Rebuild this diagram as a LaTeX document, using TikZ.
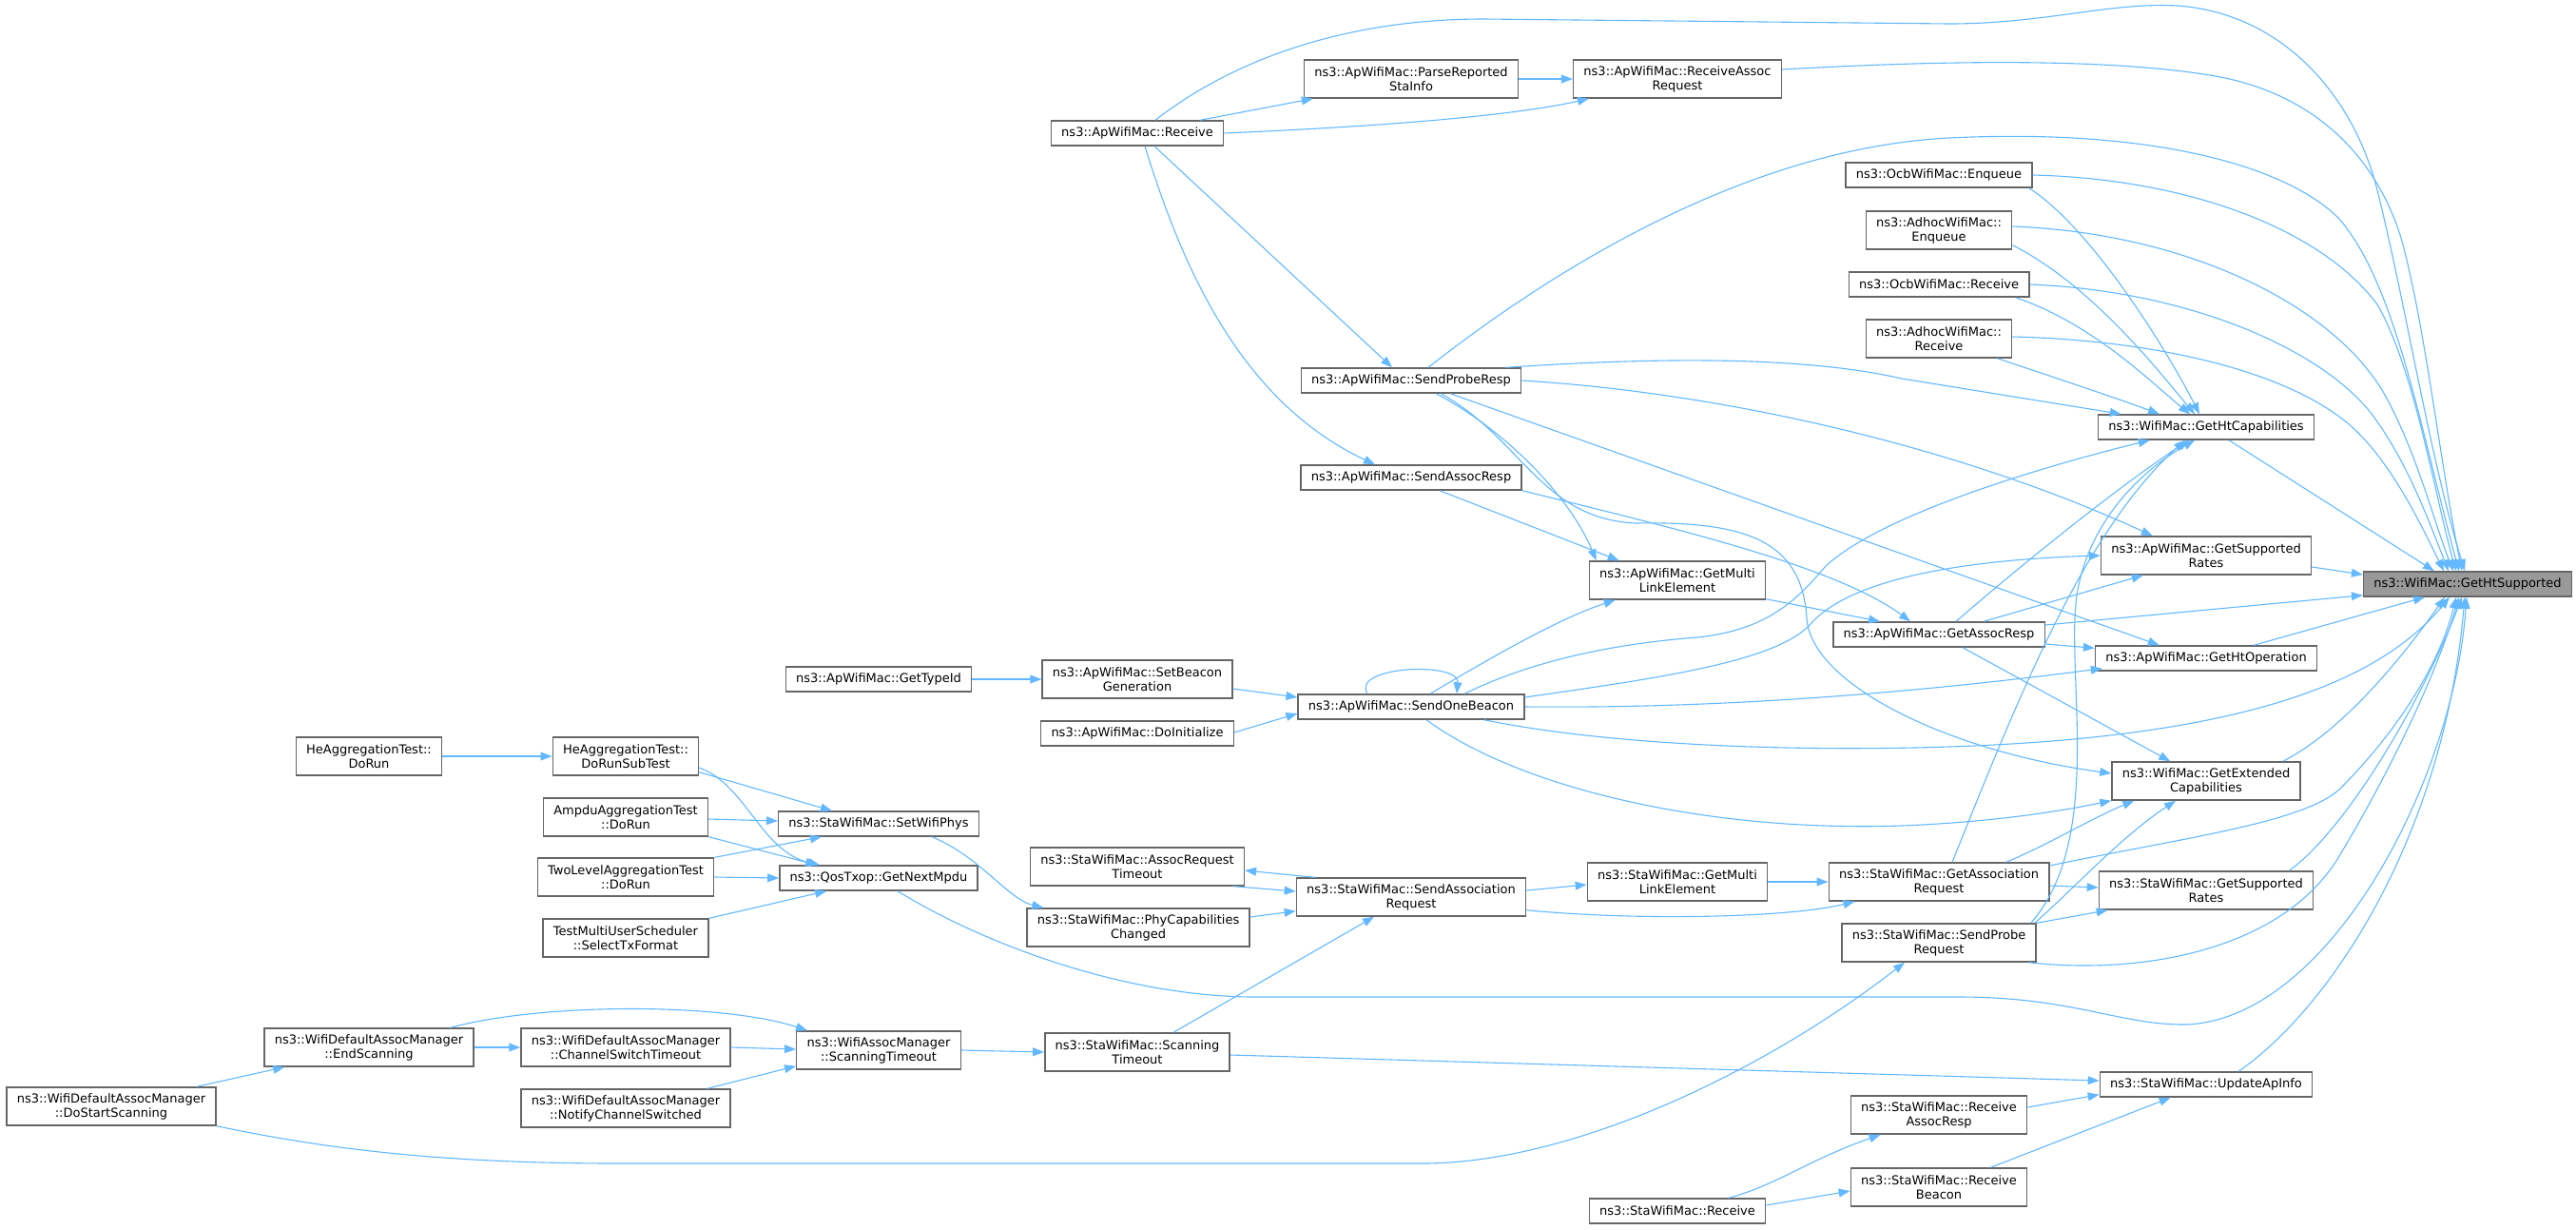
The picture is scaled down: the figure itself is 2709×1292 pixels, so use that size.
\documentclass[tikz,border=0pt]{standalone}
\usepackage{fontspec}
\newfontfamily\dvfont{DejaVu Sans}
\usetikzlibrary{arrows.meta,calc}
\definecolor{boxline}{HTML}{666666}
\definecolor{rootfill}{HTML}{999999}
\definecolor{callblue}{HTML}{63B8FF}
\tikzset{
  fn/.style={draw=boxline, line width=0.7pt, fill=white, font=\dvfont\fontsize{6.5}{7.5}\selectfont, align=center, inner xsep=5.4pt, inner ysep=1pt, minimum height=13pt},
  fnn/.style={fn, minimum height=20pt},
  fnroot/.style={fn, fill=rootfill},
  callto/.style={draw=callblue, line width=0.55pt, -{Triangle[length=6pt,width=4.4pt]}},
}
\begin{document}
\begin{tikzpicture}[x=0.5pt,y=-0.5pt]
\useasboundingbox (0,0) rectangle (2709,1292);

\node[fnn] (dostart) at (117,1163) {ns3::WifiDefaultAssocManager\\::DoStartScanning};
\node[fnn] (hedorun) at (388,795) {HeAggregationTest::\\DoRun};
\node[fnn] (endscan) at (388,1101) {ns3::WifiDefaultAssocManager\\::EndScanning};
\node[fnn] (hesub) at (658,795) {HeAggregationTest::\\DoRunSubTest};
\node[fnn] (ampdu) at (658,859) {AmpduAggregationTest\\::DoRun};
\node[fnn] (twolevel) at (658,922) {TwoLevelAggregationTest\\::DoRun};
\node[fnn] (mutest) at (658,986) {TestMultiUserScheduler\\::SelectTxFormat};
\node[fnn] (chsw) at (658,1101) {ns3::WifiDefaultAssocManager\\::ChannelSwitchTimeout};
\node[fnn] (notify) at (658,1165) {ns3::WifiDefaultAssocManager\\::NotifyChannelSwitched};
\node[fn] (typeid) at (924,714) {ns3::ApWifiMac::GetTypeId};
\node[fn] (setphys) at (924,866) {ns3::StaWifiMac::SetWifiPhys};
\node[fn] (nextmpdu) at (924,923) {ns3::QosTxop::GetNextMpdu};
\node[fnn] (wamscan) at (924,1104) {ns3::WifiAssocManager\\::ScanningTimeout};
\node[fn] (aprecv) at (1196,140) {ns3::ApWifiMac::Receive};
\node[fnn] (setbeacon) at (1196,714) {ns3::ApWifiMac::SetBeacon\\Generation};
\node[fn] (doinit) at (1196,771) {ns3::ApWifiMac::DoInitialize};
\node[fnn] (assoctimeout) at (1196,911) {ns3::StaWifiMac::AssocRequest\\Timeout};
\node[fnn] (phychanged) at (1197,975) {ns3::StaWifiMac::PhyCapabilities\\Changed};
\node[fnn] (stascan) at (1196,1106) {ns3::StaWifiMac::Scanning\\Timeout};
\node[fnn] (parse) at (1484,83) {ns3::ApWifiMac::ParseReported\\StaInfo};
\node[fn] (proberesp) at (1484,400) {ns3::ApWifiMac::SendProbeResp};
\node[fn] (assocresp) at (1484,502) {ns3::ApWifiMac::SendAssocResp};
\node[fn] (onebeacon) at (1484,743) {ns3::ApWifiMac::SendOneBeacon};
\node[fnn] (sendassoc) at (1484,943) {ns3::StaWifiMac::SendAssociation\\Request};
\node[fnn] (recvassoc) at (1764,83) {ns3::ApWifiMac::ReceiveAssoc\\Request};
\node[fnn] (apmle) at (1764,610) {ns3::ApWifiMac::GetMulti\\LinkElement};
\node[fnn] (stamle) at (1764,927) {ns3::StaWifiMac::GetMulti\\LinkElement};
\node[fn] (starecv) at (1764,1273) {ns3::StaWifiMac::Receive};
\node[fn] (ocbenq) at (2039,184) {ns3::OcbWifiMac::Enqueue};
\node[fnn] (adhocenq) at (2039,242) {ns3::AdhocWifiMac::\\Enqueue};
\node[fn] (ocbrecv) at (2039,299) {ns3::OcbWifiMac::Receive};
\node[fnn] (adhocrecv) at (2039,356) {ns3::AdhocWifiMac::\\Receive};
\node[fn] (getassocresp) at (2039,667) {ns3::ApWifiMac::GetAssocResp};
\node[fnn] (getassocreq) at (2039,927) {ns3::StaWifiMac::GetAssociation\\Request};
\node[fnn] (sendprobe) at (2039,991) {ns3::StaWifiMac::SendProbe\\Request};
\node[fnn] (recvassocresp) at (2039,1172) {ns3::StaWifiMac::Receive\\AssocResp};
\node[fnn] (recvbeacon) at (2039,1248) {ns3::StaWifiMac::Receive\\Beacon};
\node[fn] (htcap) at (2320,449) {ns3::WifiMac::GetHtCapabilities};
\node[fnn] (apsuprates) at (2320,584) {ns3::ApWifiMac::GetSupported\\Rates};
\node[fn] (htop) at (2320,692) {ns3::ApWifiMac::GetHtOperation};
\node[fnn] (extcap) at (2320,821) {ns3::WifiMac::GetExtended\\Capabilities};
\node[fnn] (stasuprates) at (2320,936) {ns3::StaWifiMac::GetSupported\\Rates};
\node[fn] (updateap) at (2320,1140) {ns3::StaWifiMac::UpdateApInfo};
\node[fnroot] (htsup) at (2595,614) {ns3::WifiMac::GetHtSupported};

\draw[callto] ($(aprecv.north)+(66,0)$) -- ($(parse.south west)+(10,0)$);
\draw[callto] (aprecv.east) .. controls (1450,133) and (1590,122) .. ($(recvassoc.south west)+(17,0)$);
\draw[callto] (parse.east) -- (recvassoc.west);
\draw[callto] ($(aprecv.north)+(19,0)$) .. controls (1300,60) and (1420,20) .. (1560,20) -- (2050,25) .. controls (2150,25) and (2220,2) .. (2290,6) .. controls (2400,14) and (2475,100) .. (2500,200) .. controls (2530,320) and (2555,480) .. ($(htsup.north)+(-3,0)$);
\draw[callto] ($(recvassoc.east)+(0,-10)$) .. controls (2000,66) and (2200,58) .. (2330,80) .. controls (2440,100) and (2500,170) .. (2525,250) .. controls (2550,340) and (2565,480) .. ($(htsup.north)+(-6,0)$);
\draw[callto] ($(proberesp.north)+(18,0)$) .. controls (1650,270) and (1850,155) .. (2050,145) .. controls (2250,135) and (2400,170) .. (2460,230) .. controls (2520,300) and (2545,450) .. ($(htsup.north)+(-9,0)$);
\draw[callto] (ocbenq.east) .. controls (2300,188) and (2440,240) .. (2500,320) .. controls (2540,390) and (2560,520) .. ($(htsup.north)+(-12,0)$);
\draw[callto] ($(adhocenq.east)+(0,-4)$) .. controls (2300,245) and (2450,320) .. (2505,410) .. controls (2540,470) and (2560,550) .. ($(htsup.north)+(-15,0)$);
\draw[callto] (ocbrecv.east) .. controls (2290,305) and (2430,360) .. (2490,430) .. controls (2530,480) and (2555,550) .. ($(htsup.north)+(-20,0)$);
\draw[callto] ($(adhocrecv.east)+(0,-2)$) .. controls (2280,358) and (2420,395) .. (2480,455) .. controls (2520,495) and (2550,560) .. ($(htsup.north)+(-25,0)$);
\draw[callto] ($(ocbenq.south east)+(-4,0)$) .. controls (2200,240) and (2280,370) .. ($(htcap.north)+(-7,0)$);
\draw[callto] ($(adhocenq.south east)+(0,-5)$) .. controls (2200,300) and (2270,390) .. ($(htcap.north)+(-12,0)$);
\draw[callto] ($(ocbrecv.south east)+(-15,0)$) .. controls (2200,340) and (2260,400) .. ($(htcap.north)+(-17,0)$);
\draw[callto] ($(adhocrecv.south east)+(-16,0)$) .. controls (2170,400) and (2230,420) .. ($(htcap.north)+(-49,0)$);
\draw[callto] ($(proberesp.north east)+(-17,0)$) .. controls (1750,375) and (1900,375) .. (2000,398) -- ($(htcap.north west)+(25,0)$);
\draw[callto] (proberesp.east) .. controls (1800,412) and (2050,465) .. ($(apsuprates.north west)+(55,0)$);
\draw[callto] ($(proberesp.south)+(41,0)$) -- ($(htop.north west)+(68,0)$);
\draw[callto] ($(proberesp.south)+(26,0)$) .. controls (1580,450) and (1650,520) .. ($(apmle.north west)+(8,0)$);
\draw[callto] ($(proberesp.south)+(31,0)$) .. controls (1600,460) and (1620,545) .. (1720,550) .. controls (1830,548) and (1895,565) .. (1900,650) .. controls (1905,720) and (2050,790) .. ($(extcap.west)+(0,-8)$);
\draw[callto] ($(aprecv.south)+(18,0)$) -- ($(proberesp.north)+(-20,0)$);
\draw[callto] ($(aprecv.south)+(8,0)$) .. controls (1240,270) and (1300,420) .. ($(assocresp.north)+(-38,0)$);
\draw[callto] ($(assocresp.south)+(30,0)$) -- ($(apmle.north west)+(32,0)$);
\draw[callto] (assocresp.south east) .. controls (1760,555) and (1930,595) .. ($(getassocresp.north west)+(82,0)$);
\draw[callto] ($(apmle.south east)+(0,-1)$) -- ($(getassocresp.north west)+(50,0)$);
\draw[callto] ($(onebeacon.north)+(20,0)$) .. controls (1570,690) and (1640,650) .. ($(apmle.south west)+(28,0)$);
\draw[callto] ($(onebeacon.north)+(-46,0)$) .. controls (1420,700) and (1535,695) .. ($(onebeacon.north)+(48,0)$);
\draw[callto] ($(onebeacon.north)+(56,0)$) .. controls (1600,700) and (1680,678) .. (1785,670) .. controls (1860,662) and (1890,630) .. (1920,595) .. controls (1980,540) and (2150,490) .. ($(htcap.south west)+(55,0)$);
\draw[callto] ($(onebeacon.east)+(0,-10)$) .. controls (1750,712) and (1870,695) .. (1905,655) .. controls (1950,605) and (2080,588) .. (apsuprates.west);
\draw[callto] (onebeacon.east) .. controls (1800,745) and (2000,730) .. ($(htop.south west)+(8,-3)$);
\draw[callto] ($(onebeacon.south east)+(-43,0)$) .. controls (1700,785) and (1900,790) .. (2050,785) .. controls (2350,775) and (2500,720) .. ($(htsup.south)+(-19,0)$);
\draw[callto] ($(onebeacon.south)+(16,0)$) .. controls (1600,830) and (1800,875) .. (2000,868) .. controls (2100,864) and (2170,852) .. (extcap.south west);
\draw[callto] ($(setbeacon.east)+(0,10)$) -- ($(onebeacon.west)+(0,-10)$);
\draw[callto] ($(doinit.east)+(0,-1)$) -- ($(onebeacon.west)+(0,7)$);
\draw[callto] (typeid.east) -- (setbeacon.west);
\draw[callto] ($(getassocresp.north)+(18,0)$) .. controls (2130,590) and (2230,510) .. ($(htcap.south)+(-18,0)$);
\draw[callto] ($(getassocresp.north)+(47,0)$) -- ($(apsuprates.south west)+(45,0)$);
\draw[callto] ($(getassocresp.east)+(0,-10)$) -- ($(htsup.south west)+(0,-2)$);
\draw[callto] ($(getassocresp.east)+(0,10)$) -- ($(htop.north west)+(0,3)$);
\draw[callto] ($(getassocresp.south)+(25,0)$) -- ($(extcap.north west)+(62,0)$);
\draw[callto] ($(htcap.south)+(24,0)$) -- ($(htsup.north)+(-35,0)$);
\draw[callto] ($(apsuprates.east)+(0,12)$) -- ($(htsup.west)+(0,-10)$);
\draw[callto] ($(htop.north)+(50,0)$) -- ($(htsup.south)+(-45,0)$);
\draw[callto] ($(extcap.north east)+(-19,0)$) .. controls (2460,770) and (2520,700) .. ($(htsup.south)+(-24,0)$);
\draw[callto] ($(getassocreq.north)+(14,0)$) .. controls (2120,740) and (2190,560) .. ($(htcap.south)+(-22,0)$);
\draw[callto] ($(sendprobe.north east)+(-6,0)$) .. controls (2215,880) and (2170,700) .. (2185,620) .. controls (2200,540) and (2260,490) .. ($(htcap.south)+(-12,0)$);
\draw[callto] ($(sendprobe.north east)+(-2,0)$) .. controls (2180,935) and (2230,880) .. ($(extcap.south)+(-32,0)$);
\draw[callto] (sendprobe.north east) -- ($(stasuprates.south west)+(10,0)$);
\draw[callto] ($(sendprobe.south east)+(-8,0)$) .. controls (2250,1025) and (2400,1000) .. (2460,900) .. controls (2520,800) and (2565,700) .. ($(htsup.south)+(-9,0)$);
\draw[callto] ($(getassocreq.north east)+(-46,0)$) .. controls (2150,890) and (2200,860) .. ($(extcap.south west)+(24,0)$);
\draw[callto] ($(getassocreq.east)+(0,-17)$) .. controls (2300,880) and (2420,865) .. (2460,830) .. controls (2520,770) and (2565,700) .. ($(htsup.south)+(-12,0)$);
\draw[callto] ($(getassocreq.east)+(0,4)$) -- ($(stasuprates.west)+(0,-3)$);
\draw[callto] ($(stasuprates.north east)+(-26,0)$) .. controls (2470,870) and (2550,730) .. ($(htsup.south)+(-6,0)$);
\draw[callto] ($(updateap.north)+(34,0)$) .. controls (2450,1060) and (2570,880) .. ($(htsup.south)+(-3,0)$);
\draw[callto] ($(nextmpdu.south)+(20,0)$) .. controls (1030,990) and (1180,1048) .. (1320,1048) -- (2060,1048) .. controls (2180,1048) and (2230,1078) .. (2300,1077) .. controls (2450,1070) and (2580,820) .. ($(htsup.south)+(-1,0)$);

\draw[callto] ($(sendassoc.east)+(0,-7)$) -- ($(stamle.west)+(0,3)$);
\draw[callto] (stamle.east) -- (getassocreq.west);
\draw[callto] ($(sendassoc.south east)+(0,-7)$) .. controls (1720,968) and (1880,965) .. ($(getassocreq.south west)+(28,0)$);
\draw[callto] ($(sendassoc.north west)+(20,0)$) -- ($(assoctimeout.east)+(0,4)$);
\draw[callto] ($(assoctimeout.south east)+(-12,0)$) -- ($(sendassoc.west)+(0,-6)$);
\draw[callto] ($(phychanged.east)+(0,-11)$) -- ($(sendassoc.south west)+(0,-6)$);
\draw[callto] ($(stascan.north)+(38,0)$) -- ($(sendassoc.south)+(-39,0)$);
\draw[callto] ($(stascan.east)+(0,3)$) -- ($(updateap.west)+(0,-4)$);
\draw[callto] ($(setphys.south east)+(-50,0)$) .. controls (1030,900) and (1060,945) .. ($(phychanged.north west)+(18,0)$);
\draw[callto] (wamscan.east) -- (stascan.west);
\draw[callto] ($(endscan.north east)+(-25,0)$) .. controls (570,1054) and (760,1054) .. ($(wamscan.north west)+(12,0)$);
\draw[callto] (endscan.east) -- (chsw.west);
\draw[callto] (chsw.east) -- ($(wamscan.west)+(0,-1)$);
\draw[callto] ($(notify.north east)+(-25,0)$) -- ($(wamscan.south west)+(0,-4)$);
\draw[callto] ($(dostart.north east)+(-21,0)$) -- ($(endscan.south west)+(22,0)$);
\draw[callto] (dostart.south east) .. controls (330,1205) and (450,1223) .. (650,1223) -- (1496,1223) .. controls (1650,1223) and (1850,1130) .. ($(sendprobe.south)+(-36,0)$);
\draw[callto] (hedorun.east) -- (hesub.west);
\draw[callto] ($(hesub.south east)+(0,-4)$) -- ($(setphys.north west)+(57,0)$);
\draw[callto] ($(hesub.east)+(0,12)$) .. controls (785,825) and (800,895) .. ($(nextmpdu.north west)+(43,0)$);
\draw[callto] ($(ampdu.east)+(0,2)$) -- ($(setphys.west)+(0,-3)$);
\draw[callto] (ampdu.south east) -- ($(nextmpdu.north west)+(40,0)$);
\draw[callto] (twolevel.north east) -- ($(setphys.south west)+(46,0)$);
\draw[callto] (twolevel.east) -- (nextmpdu.west);
\draw[callto] (mutest.north east) -- ($(nextmpdu.south west)+(50,0)$);
\draw[callto] ($(starecv.north)+(54,0)$) .. controls (1870,1245) and (1900,1220) .. ($(recvassocresp.south west)+(32,0)$);
\draw[callto] ($(starecv.east)+(0,-6)$) -- ($(recvbeacon.west)+(0,4)$);
\draw[callto] ($(recvassocresp.east)+(0,-8)$) -- ($(updateap.south west)+(0,-3)$);
\draw[callto] ($(recvbeacon.north east)+(-39,0)$) -- ($(updateap.south west)+(75,0)$);
\end{tikzpicture}
\end{document}
